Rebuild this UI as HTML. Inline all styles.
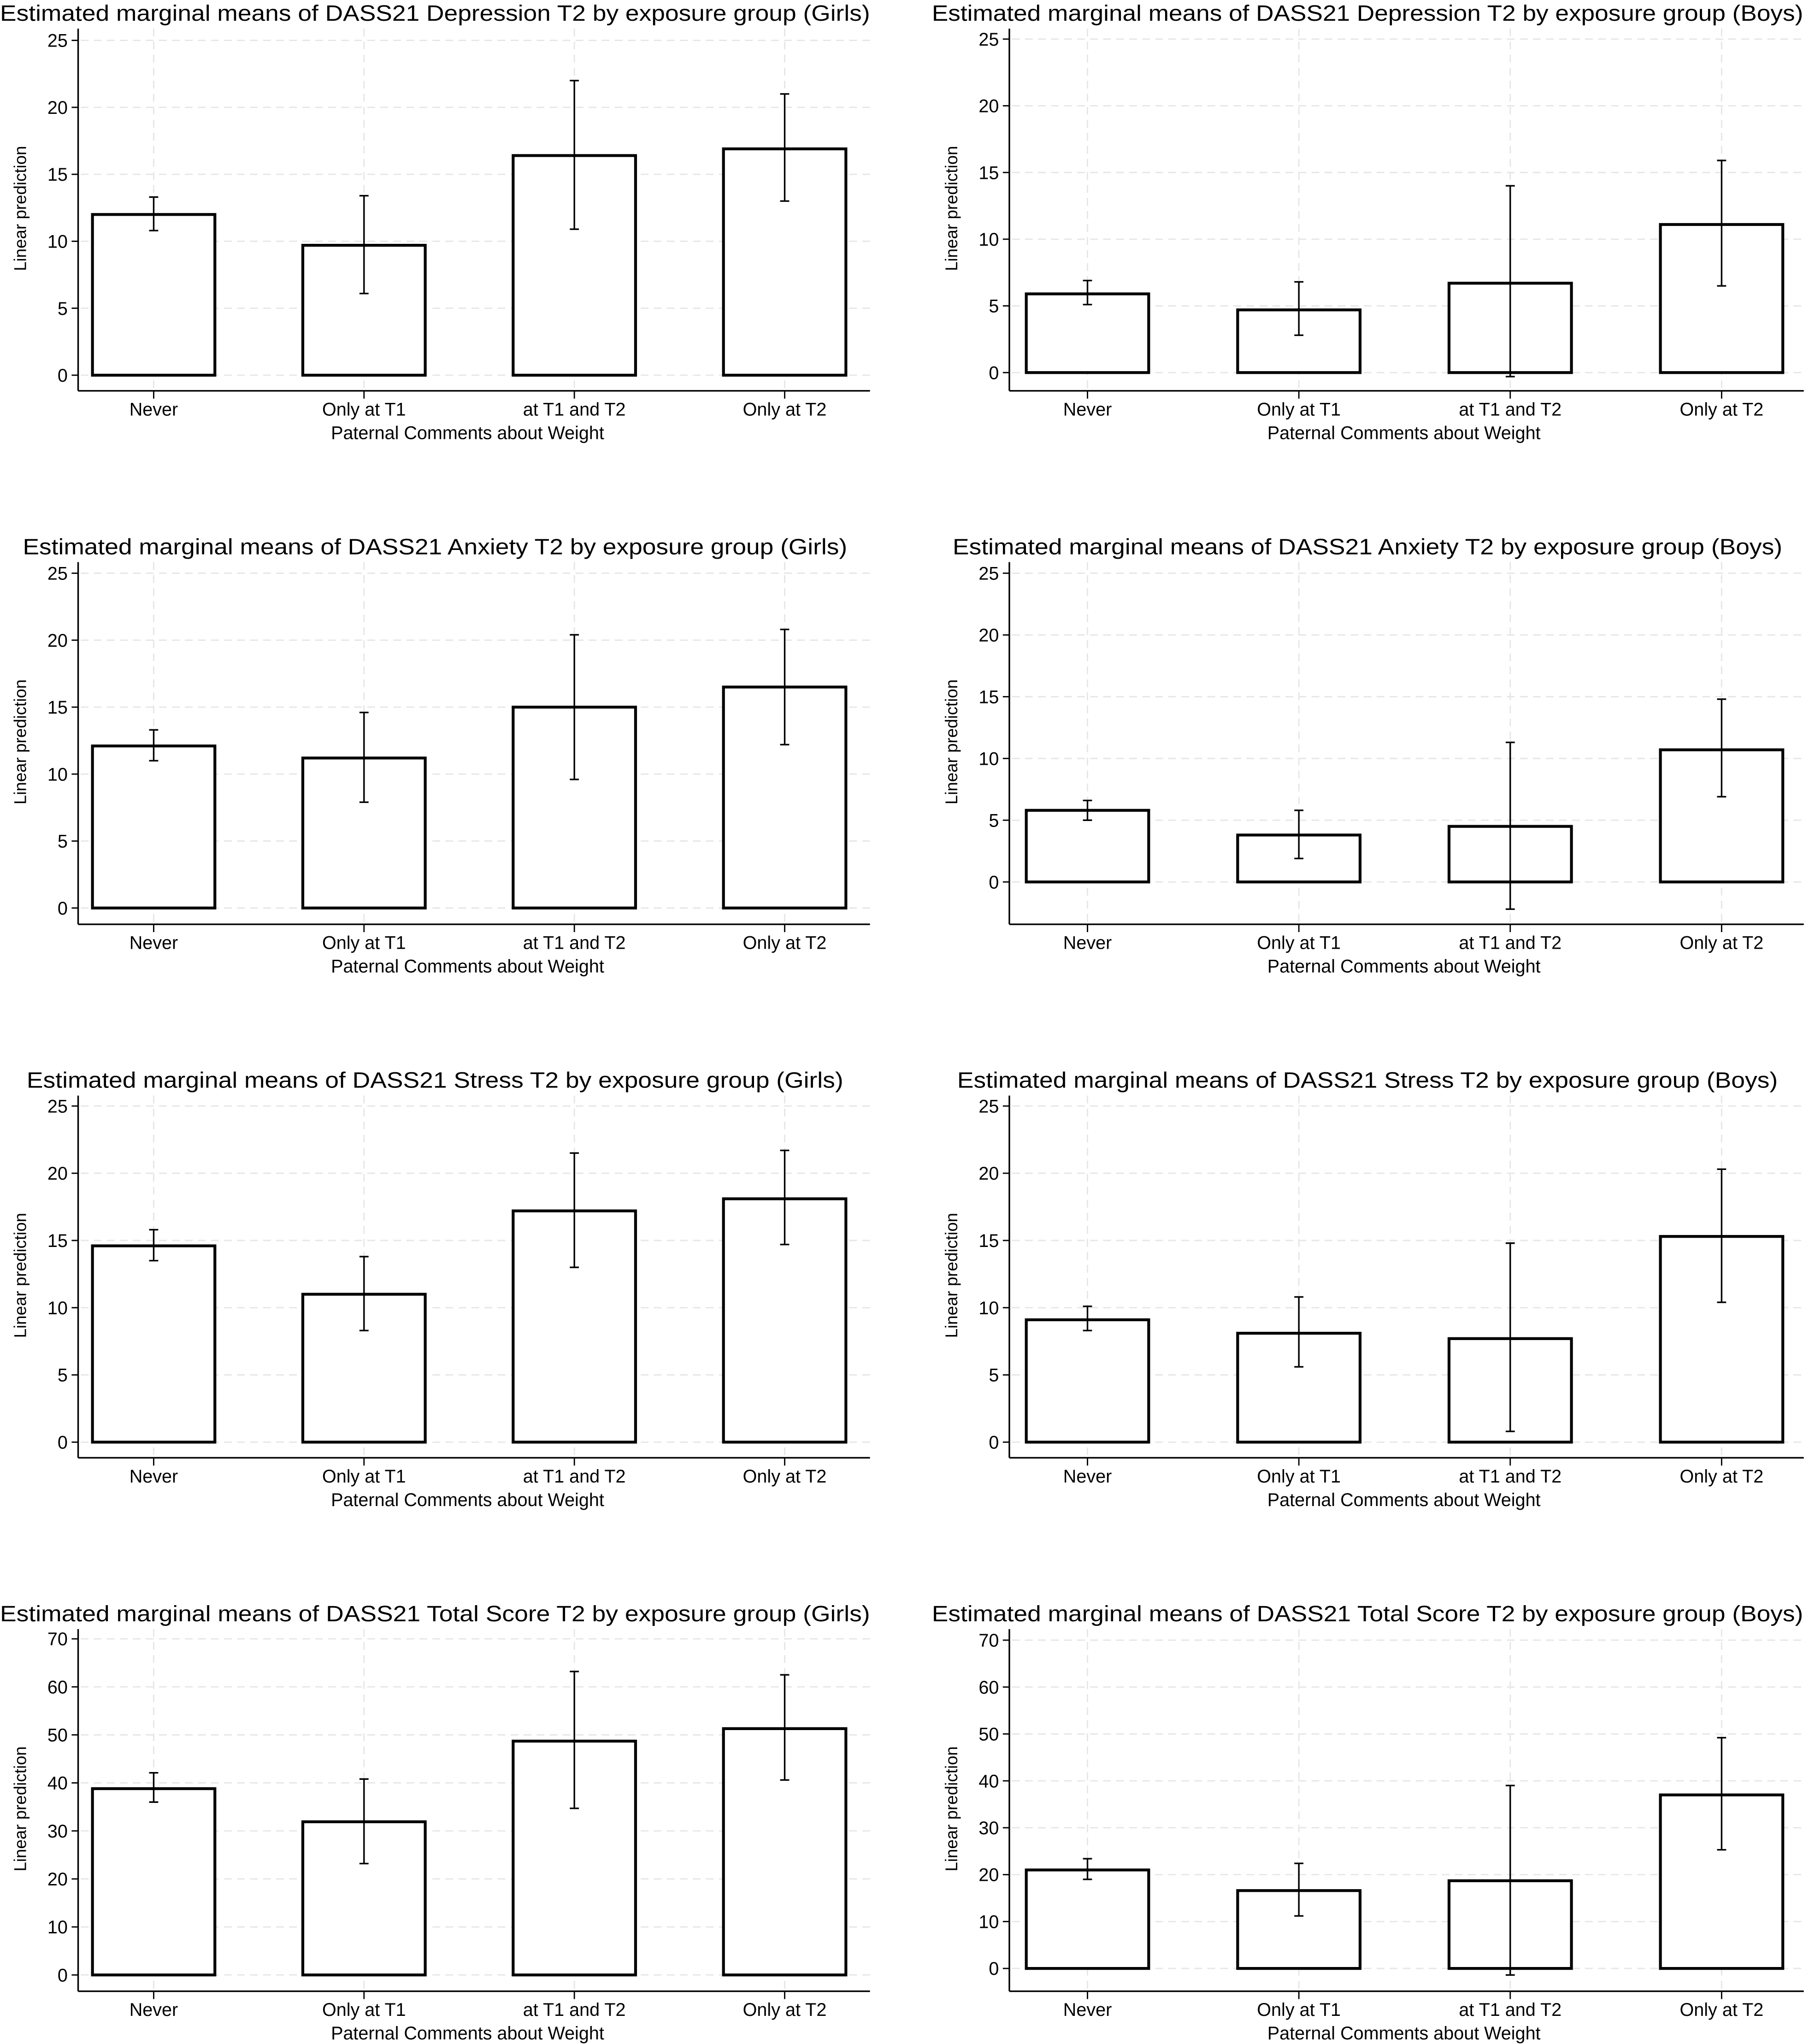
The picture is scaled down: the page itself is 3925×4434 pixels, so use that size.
<!DOCTYPE html>
<html><head><meta charset="utf-8"><style>
html,body{margin:0;padding:0;background:#fff}
svg{display:block}
text{font-family:"Liberation Sans Narrow","Liberation Sans",sans-serif;fill:#000}
</style></head><body>
<svg id="fig" width="3925" height="4434" viewBox="0 0 1389 1569" preserveAspectRatio="none" xmlns="http://www.w3.org/2000/svg"></svg>
<script>
const categories = ["Never","Only at T1","at T1 and T2","Only at T2"];
const titles = [
 "Estimated marginal means of DASS21 Depression T2 by exposure group (Girls)",
 "Estimated marginal means of DASS21 Depression T2 by exposure group (Boys)",
 "Estimated marginal means of DASS21 Anxiety T2 by exposure group (Girls)",
 "Estimated marginal means of DASS21 Anxiety T2 by exposure group (Boys)",
 "Estimated marginal means of DASS21 Stress T2 by exposure group (Girls)",
 "Estimated marginal means of DASS21 Stress T2 by exposure group (Boys)",
 "Estimated marginal means of DASS21 Total Score T2 by exposure group (Girls)",
 "Estimated marginal means of DASS21 Total Score T2 by exposure group (Boys)"];
const means = [
 [12.0,9.7,16.4,16.9],[5.9,4.7,6.7,11.1],
 [12.1,11.2,15.0,16.5],[5.8,3.8,4.5,10.7],
 [14.6,11.0,17.2,18.1],[9.1,8.1,7.7,15.3],
 [38.8,31.9,48.7,51.3],[21.0,16.6,18.7,37.0]];
const ciLow = [
 [10.8,6.1,10.9,13.0],[5.1,2.8,-0.3,6.5],
 [11.0,7.9,9.6,12.2],[5.0,1.9,-2.2,6.9],
 [13.5,8.3,13.0,14.7],[8.3,5.6,0.8,10.4],
 [36.0,23.2,34.7,40.6],[19.0,11.2,-1.4,25.3]];
const ciHigh = [
 [13.3,13.4,22.0,21.0],[6.9,6.8,14.0,15.9],
 [13.3,14.6,20.4,20.8],[6.6,5.8,11.3,14.8],
 [15.8,13.8,21.5,21.7],[10.1,10.8,14.8,20.3],
 [42.1,40.8,63.2,62.5],[23.4,22.4,39.0,49.2]];
const yTicks25 = [0,5,10,15,20,25];
const yTicks70 = [0,10,20,30,40,50,60,70];
const titleWidths = [668,669,633,637,627,630,668,669];
const plotTop = [31,30,440,440,849,849,1258,1259];
const plotZero = [288,286,697,677,1107,1107,1516,1511];

const NS="http://www.w3.org/2000/svg";
const svg=document.getElementById('fig');
function mk(tag,attrs,parent){const e=document.createElementNS(NS,tag);for(const k in attrs)e.setAttribute(k,attrs[k]);(parent||svg).appendChild(e);return e;}

for(let p=0;p<8;p++){
  const col=p%2,row=Math.floor(p/2);
  const oy=row*409.5;
  const ax0=col?775:60, ax1=col?1385:668;
  const ticks=row===3?yTicks70:yTicks25;
  const ymax=ticks[ticks.length-1];
  const yTop=plotTop[p], yZero=plotZero[p];
  const ys=v=>yZero-(v/ymax)*(yZero-yTop);
  const xs=i=>ax0+(col?60:58)+(col?162.3:161.5)*i;
  const g=mk('g',{});
  
  
  const t=mk('text',{x:col?1050:334,y:16+oy,'font-size':17,'text-anchor':'middle',textLength:titleWidths[p],lengthAdjust:'spacingAndGlyphs'},g);
  t.textContent=titles[p];
  
  
  ticks.forEach(v=>{
    const l=mk('line',{x1:ax0+2,x2:ax1,y1:ys(v),y2:ys(v),stroke:'#e6e6e6','stroke-width':1,'stroke-dasharray':'6,4'},g);
    
    
    const tk=mk('line',{x1:ax0-5,x2:ax0,y1:ys(v),y2:ys(v),stroke:'#000','stroke-width':1},g);
    
    
    const tl=mk('text',{x:ax0-8,y:ys(v)+5,'font-size':14,'text-anchor':'end'},g);
    tl.textContent=v;
    
    
  });
  categories.forEach((c,i)=>{
    const l=mk('line',{x1:xs(i),x2:xs(i),y1:22+oy,y2:300+oy,stroke:'#e6e6e6','stroke-width':1,'stroke-dasharray':'6,4'},g);
    
    
  });
  const yBot = Math.max(300+oy, yZero+12);
  const ya=mk('line',{x1:ax0,x2:ax0,y1:22+oy,y2:yBot,stroke:'#000','stroke-width':1.2},g);
  
  
  const xa=mk('line',{x1:ax0,x2:ax1,y1:yBot,y2:yBot,stroke:'#000','stroke-width':1.2},g);
  
  
  categories.forEach((c,i)=>{
    const y=ys(means[p][i]);
    const b=mk('rect',{x:xs(i)-47,y:y,width:94,height:yZero-y,fill:'#fff',stroke:'#000','stroke-width':2.2},g);
    
    
    const e=mk('path',{d:`M${xs(i)} ${ys(ciLow[p][i])}V${ys(ciHigh[p][i])}M${xs(i)-3.5} ${ys(ciLow[p][i])}h7M${xs(i)-3.5} ${ys(ciHigh[p][i])}h7`,stroke:'#000','stroke-width':1.2,fill:'none'},g);
    
    
    const tk=mk('line',{x1:xs(i),x2:xs(i),y1:yBot,y2:yBot+6,stroke:'#000','stroke-width':1},g);
    
    
    const xl=mk('text',{x:xs(i),y:319+oy,'font-size':14,'text-anchor':'middle'},g);
    xl.textContent=c;
    
    
  });
  const xt=mk('text',{x:col?1078:359,y:337+oy,'font-size':14,'text-anchor':'middle'},g);
  xt.textContent="Paternal Comments about Weight";
  
  
  const yx=ax0-40, yy=160+oy;
  const yt=mk('text',{x:yx,y:yy,'font-size':13,'text-anchor':'middle',transform:`rotate(-90 ${yx} ${yy})`,style:'font-family:"Liberation Sans",sans-serif'},g);
  yt.textContent="Linear prediction";
  
  
}
</script>
</body></html>
